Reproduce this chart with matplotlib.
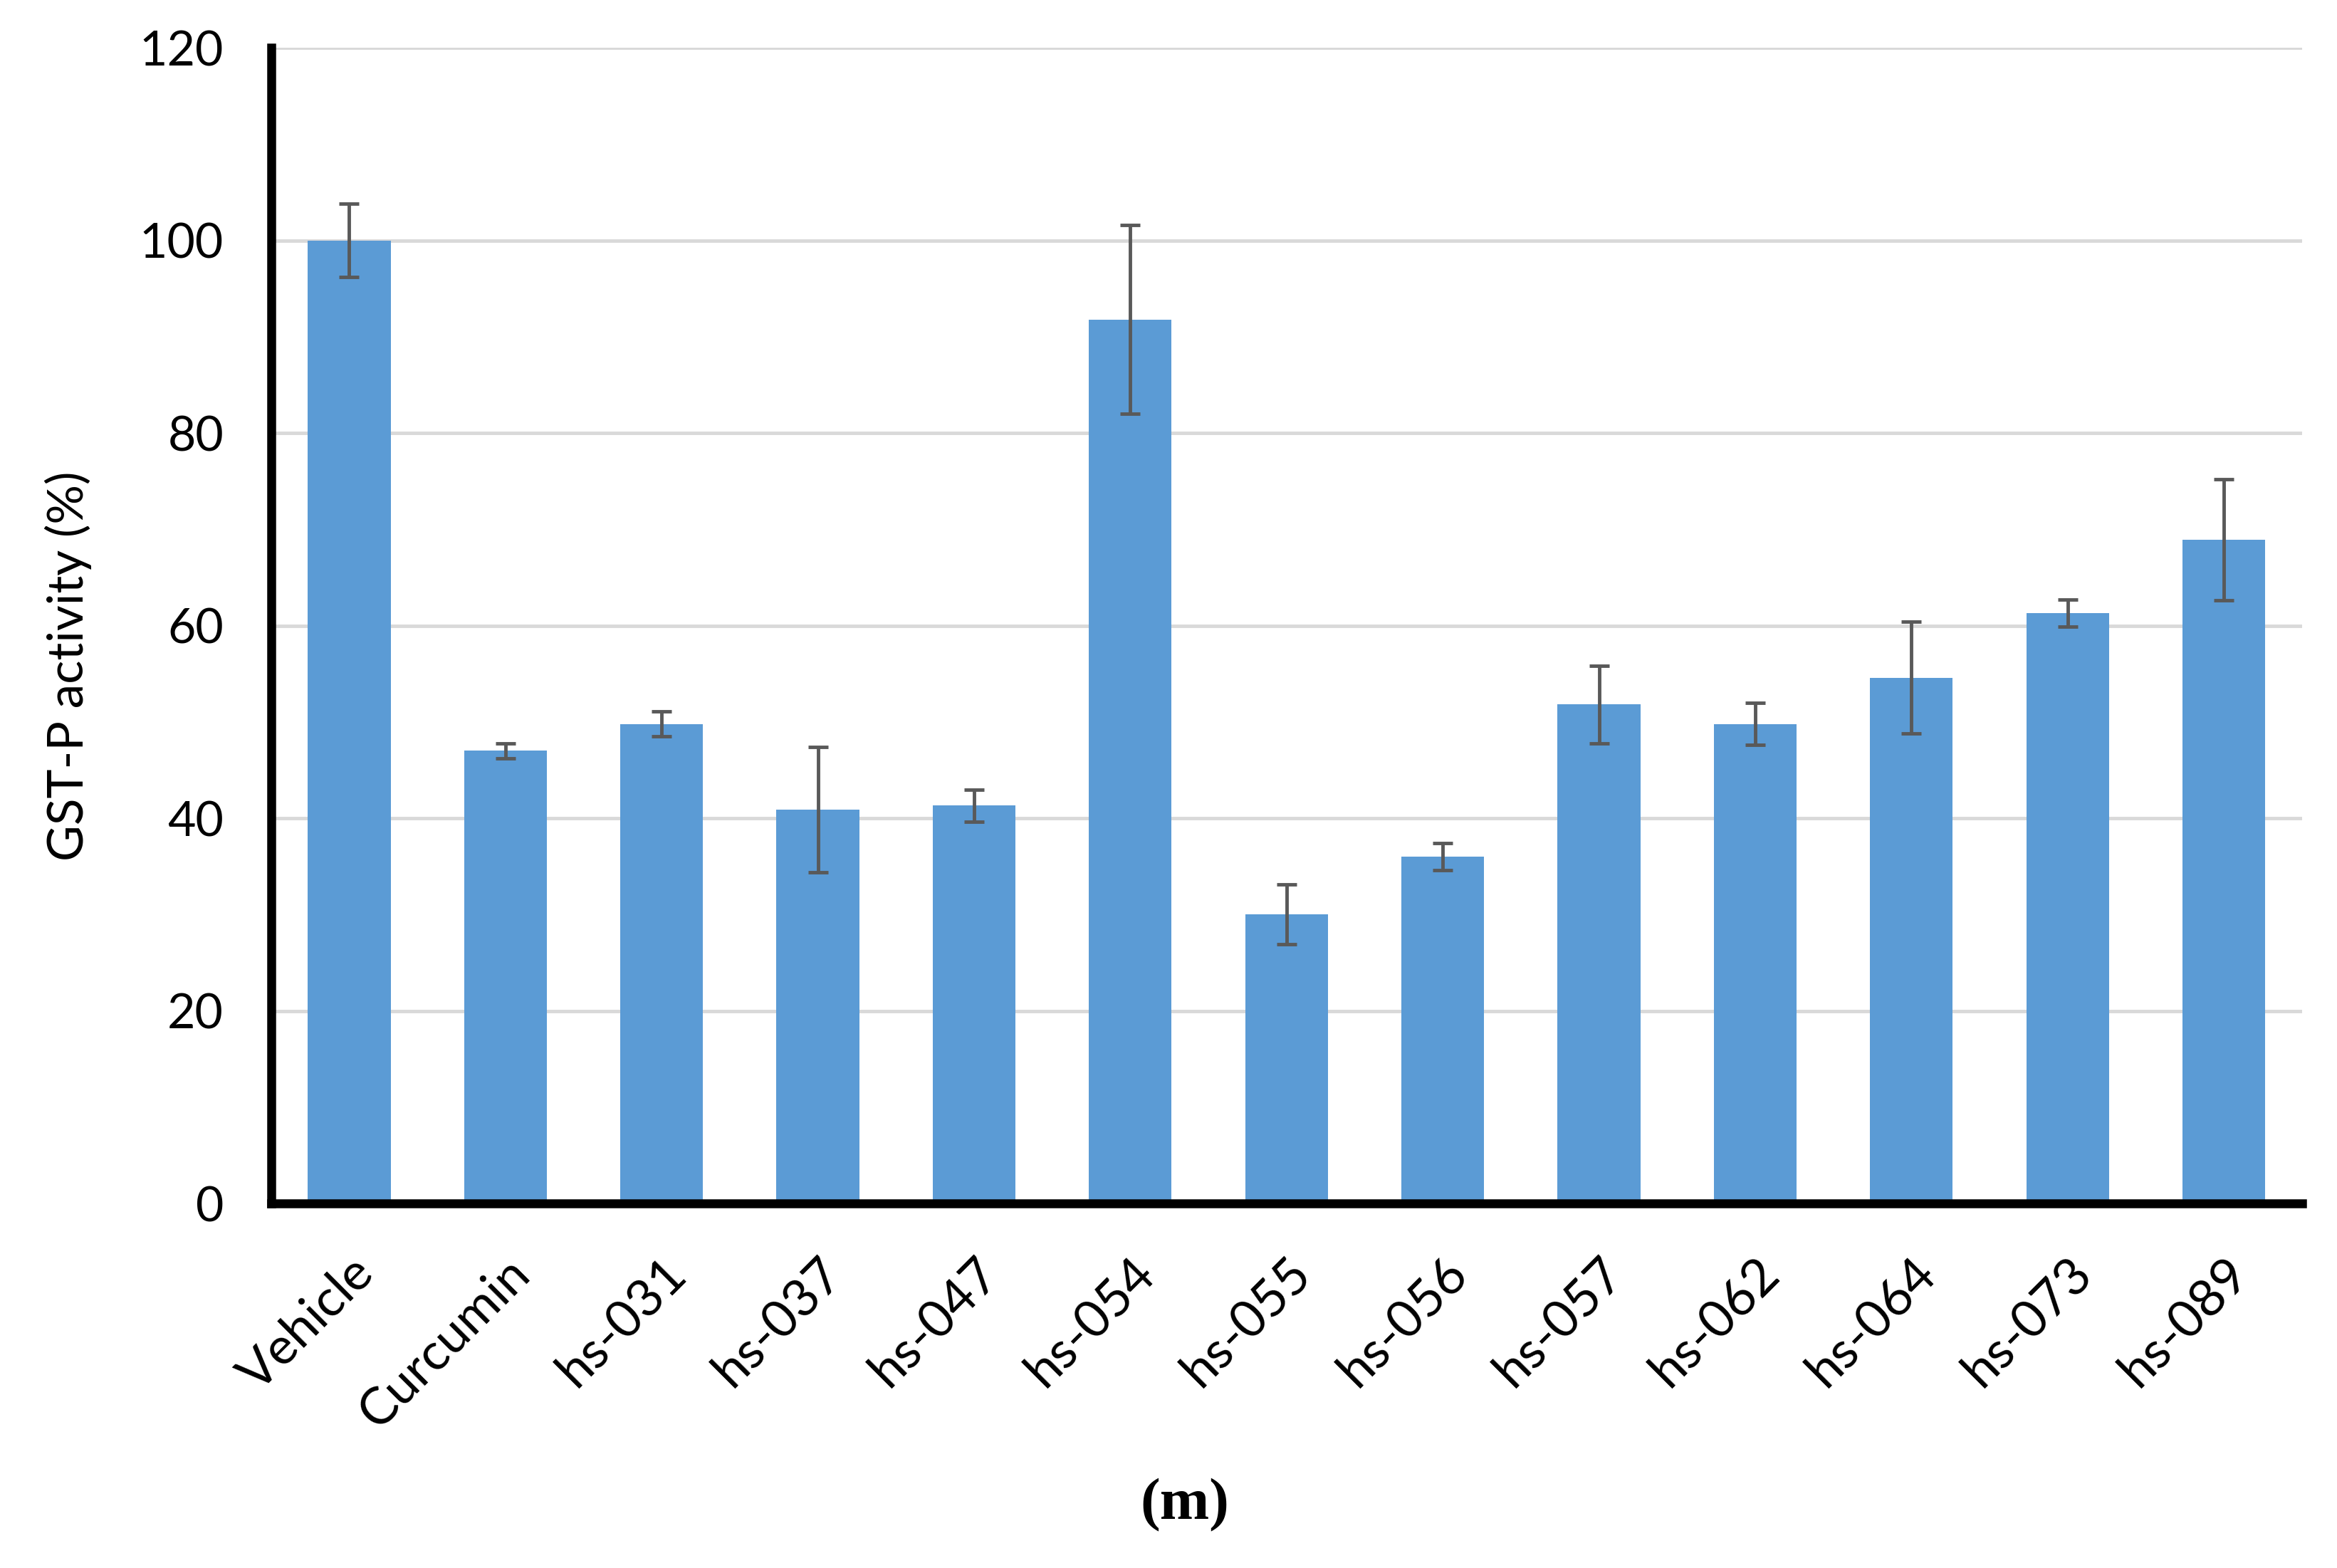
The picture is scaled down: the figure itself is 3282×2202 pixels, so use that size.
import matplotlib
matplotlib.use("Agg")
import matplotlib.pyplot as plt
import matplotlib.transforms as mtransforms
import numpy as np

categories = ["Vehicle", "Curcumin", "hs-031", "hs-037", "hs-047", "hs-054", "hs-055",
              "hs-056", "hs-057", "hs-062", "hs-064", "hs-073", "hs-089"]
values = [100.0, 47.0, 49.8, 40.9, 41.3, 91.8, 30.0, 36.0, 51.8, 49.8, 54.6, 61.3, 68.9]
errors = [3.8, 0.8, 1.3, 6.5, 1.7, 9.8, 3.1, 1.4, 4.0, 2.2, 5.8, 1.4, 6.3]
yticks = [0, 20, 40, 60, 80, 100, 120]

plt.rcParams['font.family'] = ['Lato', 'DejaVu Sans']

fig = plt.figure(figsize=(32.82, 22.02), dpi=100)
ax = fig.add_axes([0.116, 0.2325, 0.869, 0.737])

x = np.arange(len(categories))
ax.bar(x, values, width=0.53, color="#5B9BD5", zorder=2)
ax.errorbar(x, values, yerr=errors, fmt="none", ecolor="#595959",
            elinewidth=3.5, capsize=10, capthick=3.5, zorder=3)

ax.set_xlim(-0.5, len(categories) - 0.5)
ax.set_ylim(0, 120)
ax.set_yticks(yticks)
ax.set_yticklabels([str(t) for t in yticks], fontsize=49)
ax.yaxis.grid(True, color="#D9D9D9", linewidth=3.5, zorder=0)
ax.set_axisbelow(True)

ax.set_xticks(x)
ax.set_xticklabels(categories, fontsize=52, rotation=45, ha="right",
                   rotation_mode="anchor")
offset = mtransforms.ScaledTranslation(-0.13, 0, fig.dpi_scale_trans)
for lbl in ax.get_xticklabels():
    lbl.set_transform(lbl.get_transform() + offset)
ax.tick_params(axis="both", length=0)
ax.tick_params(axis="y", pad=48)
ax.tick_params(axis="x", pad=46)

for s in ["top", "right"]:
    ax.spines[s].set_visible(False)
for s in ["left", "bottom"]:
    ax.spines[s].set_linewidth(9)
    ax.spines[s].set_color("black")

ax.set_ylabel("GST-P activity (%)", fontsize=50, labelpad=48, y=0.465)

fig.text(0.507, 0.04, "(m)", fontsize=60, fontweight="bold",
         family="Liberation Serif", ha="center", va="center")

fig.savefig("out.png", dpi=100, facecolor="white")
